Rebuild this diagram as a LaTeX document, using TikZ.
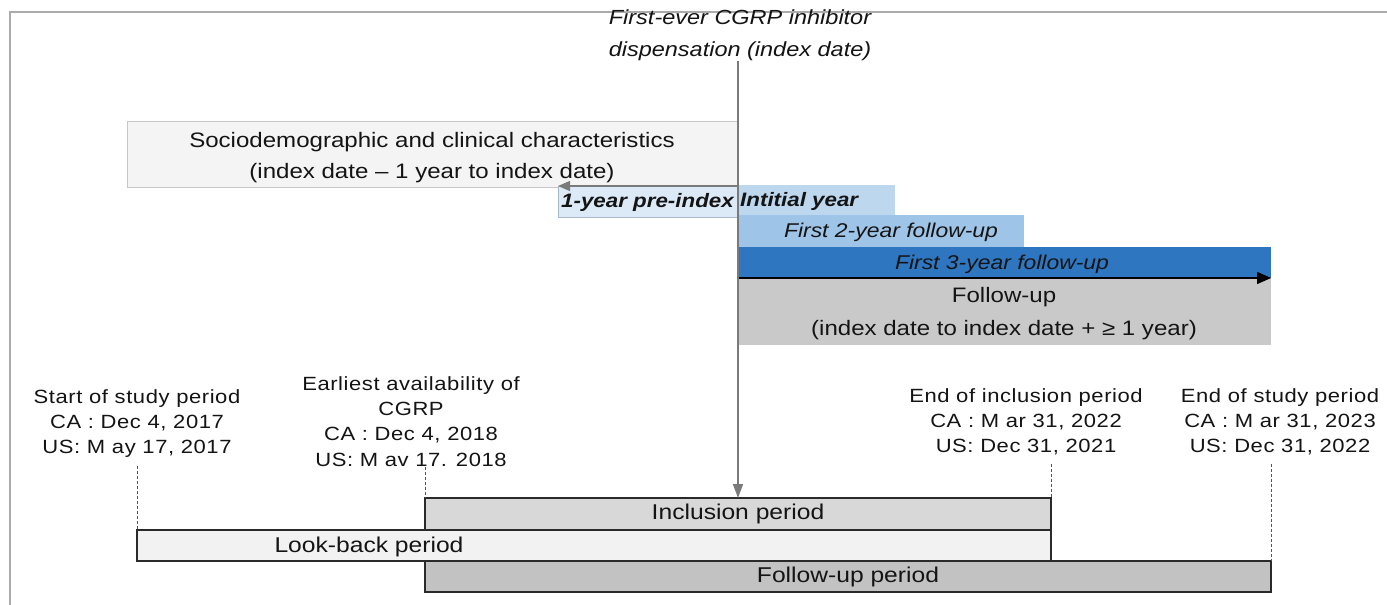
\documentclass[tikz,border=0pt]{standalone}
\usepackage{fontspec}
\setmainfont{Liberation Sans}[FakeStretch=1.15]
\newfontfamily\lblfont{Liberation Sans}[FakeStretch=1.15,LetterSpace=3]
\usetikzlibrary{arrows.meta}
\definecolor{framegray}{HTML}{ABABAB}
\definecolor{txt}{HTML}{141414}
\definecolor{sociofill}{HTML}{F4F4F4}
\definecolor{socioline}{HTML}{C6C6C6}
\definecolor{prefill}{HTML}{DCEAF7}
\definecolor{preline}{HTML}{A9B9C9}
\definecolor{initfill}{HTML}{BDD7EE}
\definecolor{twofill}{HTML}{9EC4E8}
\definecolor{threefill}{HTML}{2F76C0}
\definecolor{fufill}{HTML}{C9C9C9}
\definecolor{inclfill}{HTML}{D8D8D8}
\definecolor{lbfill}{HTML}{F2F2F2}
\definecolor{fpfill}{HTML}{C2C2C2}
\definecolor{barline}{HTML}{2A2A2A}
\definecolor{arrowgray}{HTML}{7A7A7A}
\definecolor{dashgray}{HTML}{555555}
\begin{document}
\begin{tikzpicture}[x=1bp,y=-1bp,
  every node/.style={text=txt},
  box/.style={anchor=north west, inner sep=0pt, outer sep=0pt},
  bar/.style={box, draw=barline, line width=1.3bp},
  mainfont/.style={font=\fontsize{21}{31}\selectfont},
  barfont/.style={font=\fontsize{21.5}{25}\selectfont},
  rowfont/.style={font=\fontsize{20}{24}\selectfont\itshape},
  rowbold/.style={font=\fontsize{19.5}{24}\selectfont\itshape\bfseries},
  lbl/.style={align=center, anchor=north, inner sep=0pt, font=\lblfont\fontsize{19.2}{25.5}\selectfont},
  dashline/.style={draw=dashgray, line width=1bp, dash pattern=on 3bp off 2bp},
]
\useasboundingbox (0,0) rectangle (1387,605);
\fill[white] (0,0) rectangle (1387,605);
\draw[framegray, line width=2bp] (10,605) -- (10,12) -- (1387,12);

% title
\node[align=center, anchor=south, inner sep=0pt, font=\fontsize{20.5}{32}\selectfont\itshape] (title) at (740,61)
  {First-ever CGRP inhibitor\\dispensation (index date)};

% upper boxes
\node[box, fill=sociofill, draw=socioline, line width=1bp, minimum width=610bp, minimum height=65bp] (socio) at (127,122) {};
\node[align=center, inner sep=0pt, mainfont] (sociotxt) at (432,158)
  {Sociodemographic and clinical characteristics\\(index date – 1 year to index date)};
\node[box, fill=prefill, draw=preline, line width=0.8bp, minimum width=179bp, minimum height=31bp] (pre) at (558,186) {};
\node[box, fill=initfill, minimum width=158bp, minimum height=31bp] (init) at (737,185) {};
\node[box, fill=twofill, minimum width=287bp, minimum height=32bp] (two) at (737,215) {};
\node[box, fill=threefill, minimum width=534bp, minimum height=31bp] (three) at (737,247) {};
\node[box, fill=fufill, minimum width=534bp, minimum height=67bp] (fu) at (737,278) {};
\node[align=center, inner sep=0pt, font=\fontsize{21}{33}\selectfont] (futxt) at (1004,314)
  {Follow-up\\(index date to index date + ≥ 1 year)};

\node[anchor=west, inner sep=0pt, rowbold] (pretxt) at (561,202) {1-year pre-index};
\node[anchor=west, inner sep=0pt, rowbold] (inittxt) at (740,201) {Intitial year};
\node[inner sep=0pt, rowfont] (twotxt) at (891,232) {First 2-year follow-up};
\node[inner sep=0pt, rowfont] (threetxt) at (1002,264) {First 3-year follow-up};

% bottom bars
\node[bar, fill=inclfill, minimum width=626bp, minimum height=32bp, barfont] (incl) at (425,498) {Inclusion period};
\node[bar, fill=lbfill, minimum width=914bp, minimum height=31bp] (lookback) at (137,530) {};
\node[inner sep=0pt, barfont] (lbtxt) at (369,547) {Look-back period};
\node[bar, fill=fpfill, minimum width=846bp, minimum height=31bp, barfont] (fp) at (425,561) {Follow-up period};

% labels
\node[lbl] (start) at (137,389) {Start of study period\\CA : Dec 4, 2017\\US: M ay 17, 2017};
\node[lbl] (earliest) at (411,376) {Earliest availability of\\CGRP\\CA : Dec 4, 2018\\US: M av 17. 2018};
\node[lbl] (endincl) at (1026,388) {End of inclusion period\\CA : M ar 31, 2022\\US: Dec 31, 2021};
\node[lbl] (endstudy) at (1280,388) {End of study period\\CA : M ar 31, 2023\\US: Dec 31, 2022};

% dashed markers
\draw[dashline, shorten <=8bp] (start.south -| lookback.north west) -- (lookback.north west);
\draw[dashline] (earliest.south -| incl.north west) -- (incl.north west);
\draw[dashline, shorten <=8bp] (endincl.south -| incl.north east) -- (incl.north east);
\draw[dashline, shorten <=8bp] (endstudy.south -| fp.north east) -- (fp.north east);

% arrows
\draw[arrowgray, line width=1.2bp, -{Triangle[length=12bp,width=10bp]}] (pre.north east) -- (pre.north west);
\draw[black, line width=1.5bp, -{Triangle[length=14bp,width=12bp]}] (fu.north west) -- (fu.north east);
\draw[arrowgray, line width=1.5bp, -{Triangle[length=14bp,width=10bp]}] (title.south -| incl.north) -- (incl.north);
\end{tikzpicture}
\end{document}
